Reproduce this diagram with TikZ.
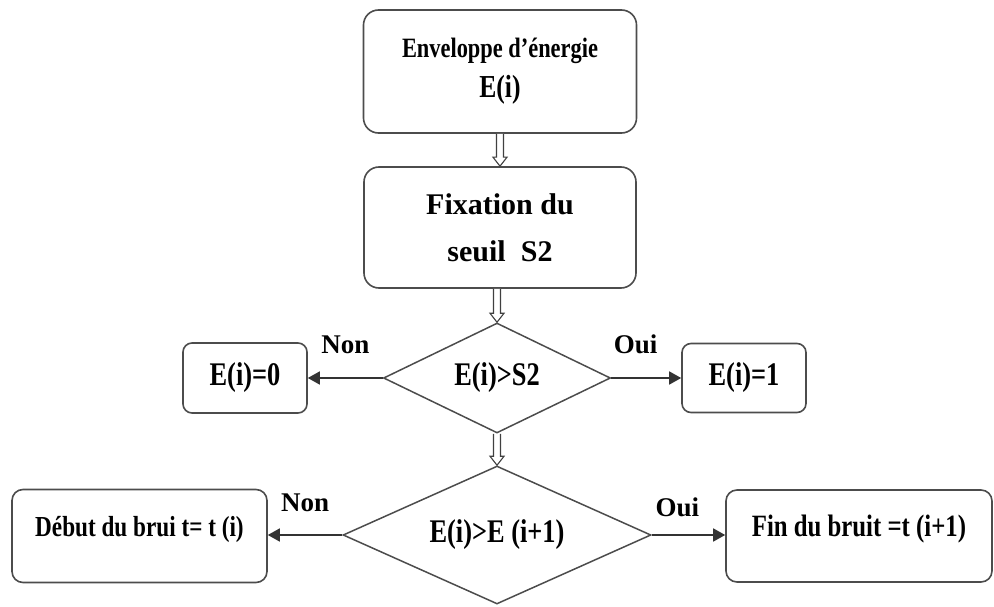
\documentclass[tikz,border=0pt]{standalone}
\usepackage{fontspec}
\setmainfont{Liberation Serif}
\newfontfamily\narrowserif[FakeStretch=0.8]{Liberation Serif}
\usetikzlibrary{shapes.geometric,arrows.meta,calc}

\begin{document}
\begin{tikzpicture}[x=1pt,y=-1pt,
        box/.style={draw=black!70,line width=1.6pt,rounded corners=#1,inner sep=0pt},
        box/.default=9pt,
        test/.style={diamond,draw=black!70,line width=1.5pt,inner sep=0pt,aspect=2},
        flow/.style={draw=black!80,line width=1.6pt,-{Triangle[length=12pt,width=13pt]}},
        hollow/.style={draw=black!75,line width=1.1pt,fill=white},
        answer/.style={font=\bfseries\fontsize{27}{30}\selectfont,inner sep=0pt,above=#1},
        answer/.default=22pt]
        \useasboundingbox (0,0) rectangle (994,607);%
        \node[box=15pt,minimum width=273pt,minimum height=123pt,align=center,
              font=\narrowserif\bfseries\fontsize{28}{40}\selectfont] (env) at (500,71.5)
              {Enveloppe d’énergie\\{\fontsize{32}{40}\selectfont E(i)}};%
        \node[box=15pt,minimum width=272pt,minimum height=121pt,align=center,
              font=\bfseries\fontsize{30}{47}\selectfont] (fix) at (500,227.5)
              {Fixation du\\seuil\ \ S2};%
        \node[test,minimum width=227pt,minimum height=110pt,
              font=\narrowserif\bfseries\fontsize{33}{36}\selectfont] (d1) at (497,378) {E(i)>S2};%
        \node[test,minimum width=308pt,minimum height=138pt,
              font=\narrowserif\bfseries\fontsize{33}{36}\selectfont] (d2) at (497,535) {E(i)>E (i+1)};%
        \node[box,minimum width=124pt,minimum height=70pt,
              font=\narrowserif\bfseries\fontsize{33}{36}\selectfont] (e0) at (245,378) {E(i)=0};%
        \node[box,minimum width=124pt,minimum height=69pt,
              font=\narrowserif\bfseries\fontsize{33}{36}\selectfont] (e1) at (744,378) {E(i)=1};%
        \node[box=11pt,minimum width=255pt,minimum height=93pt,text height=20pt,text depth=20pt,
              font=\narrowserif\bfseries\fontsize{29}{32}\selectfont] (deb) at (139.5,536) {Début du brui t= t (i)};%
        \node[box=11pt,minimum width=266pt,minimum height=92pt,text height=20pt,text depth=20pt,
              font=\narrowserif\bfseries\fontsize{31}{34}\selectfont] (fin) at (859,536) {Fin du bruit =t (i+1)};%
        % hollow arrows down the middle
        \draw[hollow] ($(env.south)+(-3.5,0)$) -- ($(fix.north)+(-3.5,-9)$) -- ($(fix.north)+(-7,-9)$) -- (fix.north)
              -- ($(fix.north)+(7,-9)$) -- ($(fix.north)+(3.5,-9)$) -- ($(env.south)+(3.5,0)$);%
        \draw[hollow] ($(fix.south -| d1.north)+(-3.5,0)$) -- ($(d1.north)+(-3.5,-9)$) -- ($(d1.north)+(-7,-9)$) -- (d1.north)
              -- ($(d1.north)+(7,-9)$) -- ($(d1.north)+(3.5,-9)$) -- ($(fix.south -| d1.north)+(3.5,0)$);%
        \draw[hollow] ($(d1.south)+(-3.5,0)$) -- ($(d2.north)+(-3.5,-9)$) -- ($(d2.north)+(-7,-9)$) -- (d2.north)
              -- ($(d2.north)+(7,-9)$) -- ($(d2.north)+(3.5,-9)$) -- ($(d1.south)+(3.5,0)$);%
        % decisions
        \draw[flow] (d1.west) -- node[answer=23pt] (non1) {Non} (e0.east);%
        \draw[flow] (d1.east) -- node[answer=23pt,pos=.35] (oui1) {Oui} (e1.west);%
        \draw[flow] (d2.west) -- node[answer] (non2) {Non} (deb.east |- d2.west);%
        \draw[flow] (d2.east) -- node[answer=17pt,pos=.35] (oui2) {Oui} (fin.west |- d2.east);%
\end{tikzpicture}
\end{document}
